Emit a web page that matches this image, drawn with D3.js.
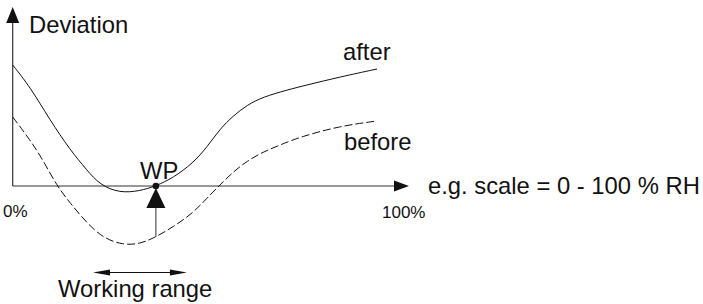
<!DOCTYPE html>
<html>
<head>
<meta charset="utf-8">
<script src="https://cdn.jsdelivr.net/npm/d3@7"></script>
<style>
  body { margin: 0; background: #fff; }
  text { font-family: "Liberation Sans", Arial, Helvetica, sans-serif; fill: #111; }
</style>
</head>
<body>
<div id="chart"></div>
<script>
// scale position in % of the measuring range
const afterX = [0, 4.5, 9.6, 14.8, 19.1, 22.5, 27.6, 32.8, 36.9, 41.3, 46.5, 50.1, 53.4, 56.8, 60.4, 64.5, 70.7, 75.8, 84.3, 93.9];
const afterDev = [12.1, 9.9, 6.6, 3.6, 1.6, 0.1, -0.7, -0.5, 0, 0.8, 2.3, 3.9, 5.7, 7.0, 8.1, 8.9, 9.6, 10.1, 10.9, 11.7];

const beforeX = [0, 4.5, 7.8, 11.4, 14.8, 19.1, 23.3, 28.4, 32.8, 36.9, 41.3, 46.5, 50.1, 53.4, 56.8, 60.4, 64.5, 68.9, 74.0, 84.3, 93.9];
const beforeDev = [6.9, 4.6, 2.6, 0, -1.7, -3.7, -5.2, -5.9, -5.8, -5.1, -4.1, -2.7, -1.2, 0.1, 1.4, 2.5, 3.4, 4.1, 4.9, 6.0, 6.5];

const wpX = 36.9;              // working point
const workingRange = [20.7, 44.9];
const xTickLabels = ['0%', '100%'];

const width = 703, height = 304;

const svg = d3.select('#chart')
  .append('svg')
  .attr('width', width)
  .attr('height', height);

const x = d3.scaleLinear().domain([0, 100]).range([12.7, 400.7]);
const y = d3.scaleLinear().domain([-6, 18]).range([246, 6]);

const ink = '#111';

// axes
svg.append('line')
  .attr('x1', x(0)).attr('x2', 396)
  .attr('y1', y(0)).attr('y2', y(0))
  .attr('stroke', '#333').attr('stroke-width', 1.2);
svg.append('path')
  .attr('d', `M409,${y(0)} L394,${y(0) - 5.5} L394,${y(0) + 5.5} Z`)
  .attr('fill', ink);

svg.append('line')
  .attr('x1', x(0)).attr('x2', x(0))
  .attr('y1', y(0)).attr('y2', 20)
  .attr('stroke', '#333').attr('stroke-width', 1.2);
svg.append('path')
  .attr('d', `M${x(0)},7 L${x(0) - 6.5},23 L${x(0) + 6.5},23 Z`)
  .attr('fill', ink);

// curves
const line = d3.line()
  .x(d => x(d[0]))
  .y(d => y(d[1]))
  .curve(d3.curveBasis);

svg.append('path')
  .datum(d3.zip(afterX, afterDev))
  .attr('d', line)
  .attr('fill', 'none')
  .attr('stroke', ink)
  .attr('stroke-width', 1);

svg.append('path')
  .datum(d3.zip(beforeX, beforeDev))
  .attr('d', line)
  .attr('fill', 'none')
  .attr('stroke', ink)
  .attr('stroke-width', 1)
  .attr('stroke-dasharray', '8,3');

// working point marker
const beforeAtWp = beforeDev[beforeX.indexOf(wpX)];
svg.append('line')
  .attr('x1', x(wpX)).attr('x2', x(wpX))
  .attr('y1', 207).attr('y2', y(beforeAtWp))
  .attr('stroke', '#555').attr('stroke-width', 1.2);
svg.append('path')
  .attr('d', `M${x(wpX)},${y(0) + 2} L${x(wpX) - 9.5},208 L${x(wpX) + 9.5},208 Z`)
  .attr('fill', ink);
svg.append('circle')
  .attr('cx', x(wpX)).attr('cy', y(0))
  .attr('r', 3.3)
  .attr('fill', ink);

// working range arrow
const wr0 = x(workingRange[0]), wr1 = x(workingRange[1]), wrY = 272.5;
svg.append('line')
  .attr('x1', wr0 + 10).attr('x2', wr1 - 10)
  .attr('y1', wrY).attr('y2', wrY)
  .attr('stroke', ink).attr('stroke-width', 1);
svg.append('path')
  .attr('d', `M${wr0},${wrY} L${wr0 + 17},${wrY - 3} L${wr0 + 17},${wrY + 3} Z`)
  .attr('fill', ink);
svg.append('path')
  .attr('d', `M${wr1},${wrY} L${wr1 - 17},${wrY - 3} L${wr1 - 17},${wrY + 3} Z`)
  .attr('fill', ink);

// labels
const big = '23.8px', small = '17px';

svg.append('text').attr('x', 29).attr('y', 33).style('font-size', big).text('Deviation');
svg.append('text').attr('x', 343).attr('y', 60).style('font-size', big).text('after');
svg.append('text').attr('x', 344).attr('y', 150).style('font-size', big).text('before');
svg.append('text').attr('x', 428).attr('y', 194).style('font-size', big).text('e.g. scale = 0 - 100 % RH');
svg.append('text').attr('x', 140).attr('y', 179).style('font-size', big).text('WP');
svg.append('text').attr('x', 58).attr('y', 297).style('font-size', big).text('Working range');

svg.append('text').attr('x', 3).attr('y', 217).style('font-size', small).text(xTickLabels[0]);
svg.append('text').attr('x', 382).attr('y', 218).style('font-size', small).text(xTickLabels[1]);
</script>
</body>
</html>
